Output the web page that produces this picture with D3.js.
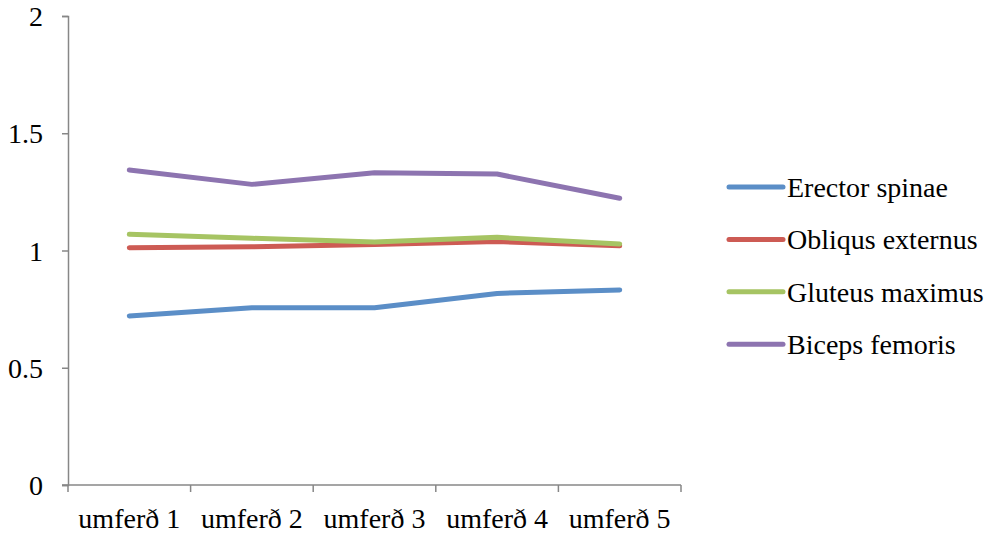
<!DOCTYPE html>
<html>
<head>
<meta charset="utf-8">
<script src="https://cdn.jsdelivr.net/npm/d3@7"></script>
<style>
  html, body { margin: 0; padding: 0; background: #fff; }
  svg { display: block; }
  svg text { font-family: "Liberation Serif", serif; fill: #000; }
</style>
</head>
<body>
<svg id="chart" width="986" height="533"></svg>
<script>
// Rounds (categories) and tick labels
const rounds = ["umferð 1", "umferð 2", "umferð 3", "umferð 4", "umferð 5"];
const yTicks = [0, 0.5, 1, 1.5, 2];

// Series values per muscle
const erectorSpinae   = [0.721, 0.756, 0.756, 0.817, 0.832];
const obliqusExternus = [1.012, 1.016, 1.026, 1.038, 1.020];
const gluteusMaximus  = [1.069, 1.052, 1.036, 1.056, 1.028];
const bicepsFemoris   = [1.343, 1.282, 1.332, 1.326, 1.223];

const seriesNames  = ["Erector spinae", "Obliqus externus", "Gluteus maximus", "Biceps femoris"];
const seriesValues = [erectorSpinae, obliqusExternus, gluteusMaximus, bicepsFemoris];
const seriesColors = ["#5b8ec7", "#cd5b54", "#a6c463", "#8d74b0"];

const svg = d3.select("#chart");
const plotLeft = 68, plotRight = 681, plotTop = 16, plotBottom = 485;

const x = d3.scaleBand().domain(rounds).range([plotLeft, plotRight]).padding(0);
const y = d3.scaleLinear().domain([0, 2]).range([plotBottom, plotTop]);

const axisColor = "#878787";
const fontSize = 28;
const fontFamily = '"Liberation Serif", serif';

// Y axis
const yAxis = svg.append("g")
  .attr("transform", `translate(${plotLeft},0)`)
  .call(d3.axisLeft(y).tickValues(yTicks).tickSize(6).tickPadding(19)
    .tickFormat(d => d3.format("")(d)));
yAxis.attr("font-family", fontFamily);
yAxis.select(".domain").attr("stroke", axisColor).attr("stroke-width", 1.5);
yAxis.selectAll(".tick line").attr("stroke", axisColor).attr("stroke-width", 1.5);
yAxis.selectAll(".tick text")
  .attr("font-size", fontSize)
  .attr("font-family", fontFamily)
  .attr("dy", "0.34em")
  .attr("fill", "#000");

// X axis with ticks at band boundaries
const xAxis = svg.append("g")
  .attr("transform", `translate(0,${plotBottom})`);
xAxis.append("line")
  .attr("x1", plotLeft - 6).attr("x2", plotRight)
  .attr("y1", 0).attr("y2", 0)
  .attr("stroke", axisColor).attr("stroke-width", 1.5);
const boundaries = rounds.map(r => x(r)).concat([x(rounds[rounds.length - 1]) + x.bandwidth()]);
xAxis.selectAll("line.tick")
  .data(boundaries)
  .join("line")
  .attr("class", "tick")
  .attr("x1", d => d).attr("x2", d => d)
  .attr("y1", 0).attr("y2", 7)
  .attr("stroke", axisColor).attr("stroke-width", 1.5);
xAxis.selectAll("text")
  .data(rounds)
  .join("text")
  .attr("x", d => x(d) + x.bandwidth() / 2)
  .attr("y", 43)
  .attr("text-anchor", "middle")
  .attr("font-size", fontSize)
  .attr("font-family", fontFamily)
  .text(d => d);

// Lines
const line = d3.line()
  .x((d, i) => x(rounds[i]) + x.bandwidth() / 2)
  .y(d => y(d));

svg.append("g").selectAll("path")
  .data(seriesValues)
  .join("path")
  .attr("d", d => line(d))
  .attr("fill", "none")
  .attr("stroke", (d, i) => seriesColors[i])
  .attr("stroke-width", 5)
  .attr("stroke-linecap", "round")
  .attr("stroke-linejoin", "round");

// Legend
const legend = svg.append("g");
const legendRows = legend.selectAll("g")
  .data(seriesNames)
  .join("g")
  .attr("transform", (d, i) => `translate(729,${187 + i * 52.4})`);
legendRows.append("line")
  .attr("x1", 0).attr("x2", 54)
  .attr("y1", 0).attr("y2", 0)
  .attr("stroke", (d, i) => seriesColors[i])
  .attr("stroke-width", 5)
  .attr("stroke-linecap", "round");
legendRows.append("text")
  .attr("x", 58)
  .attr("y", 10)
  .attr("font-size", fontSize)
  .attr("font-family", fontFamily)
  .text(d => d);
</script>
</body>
</html>
